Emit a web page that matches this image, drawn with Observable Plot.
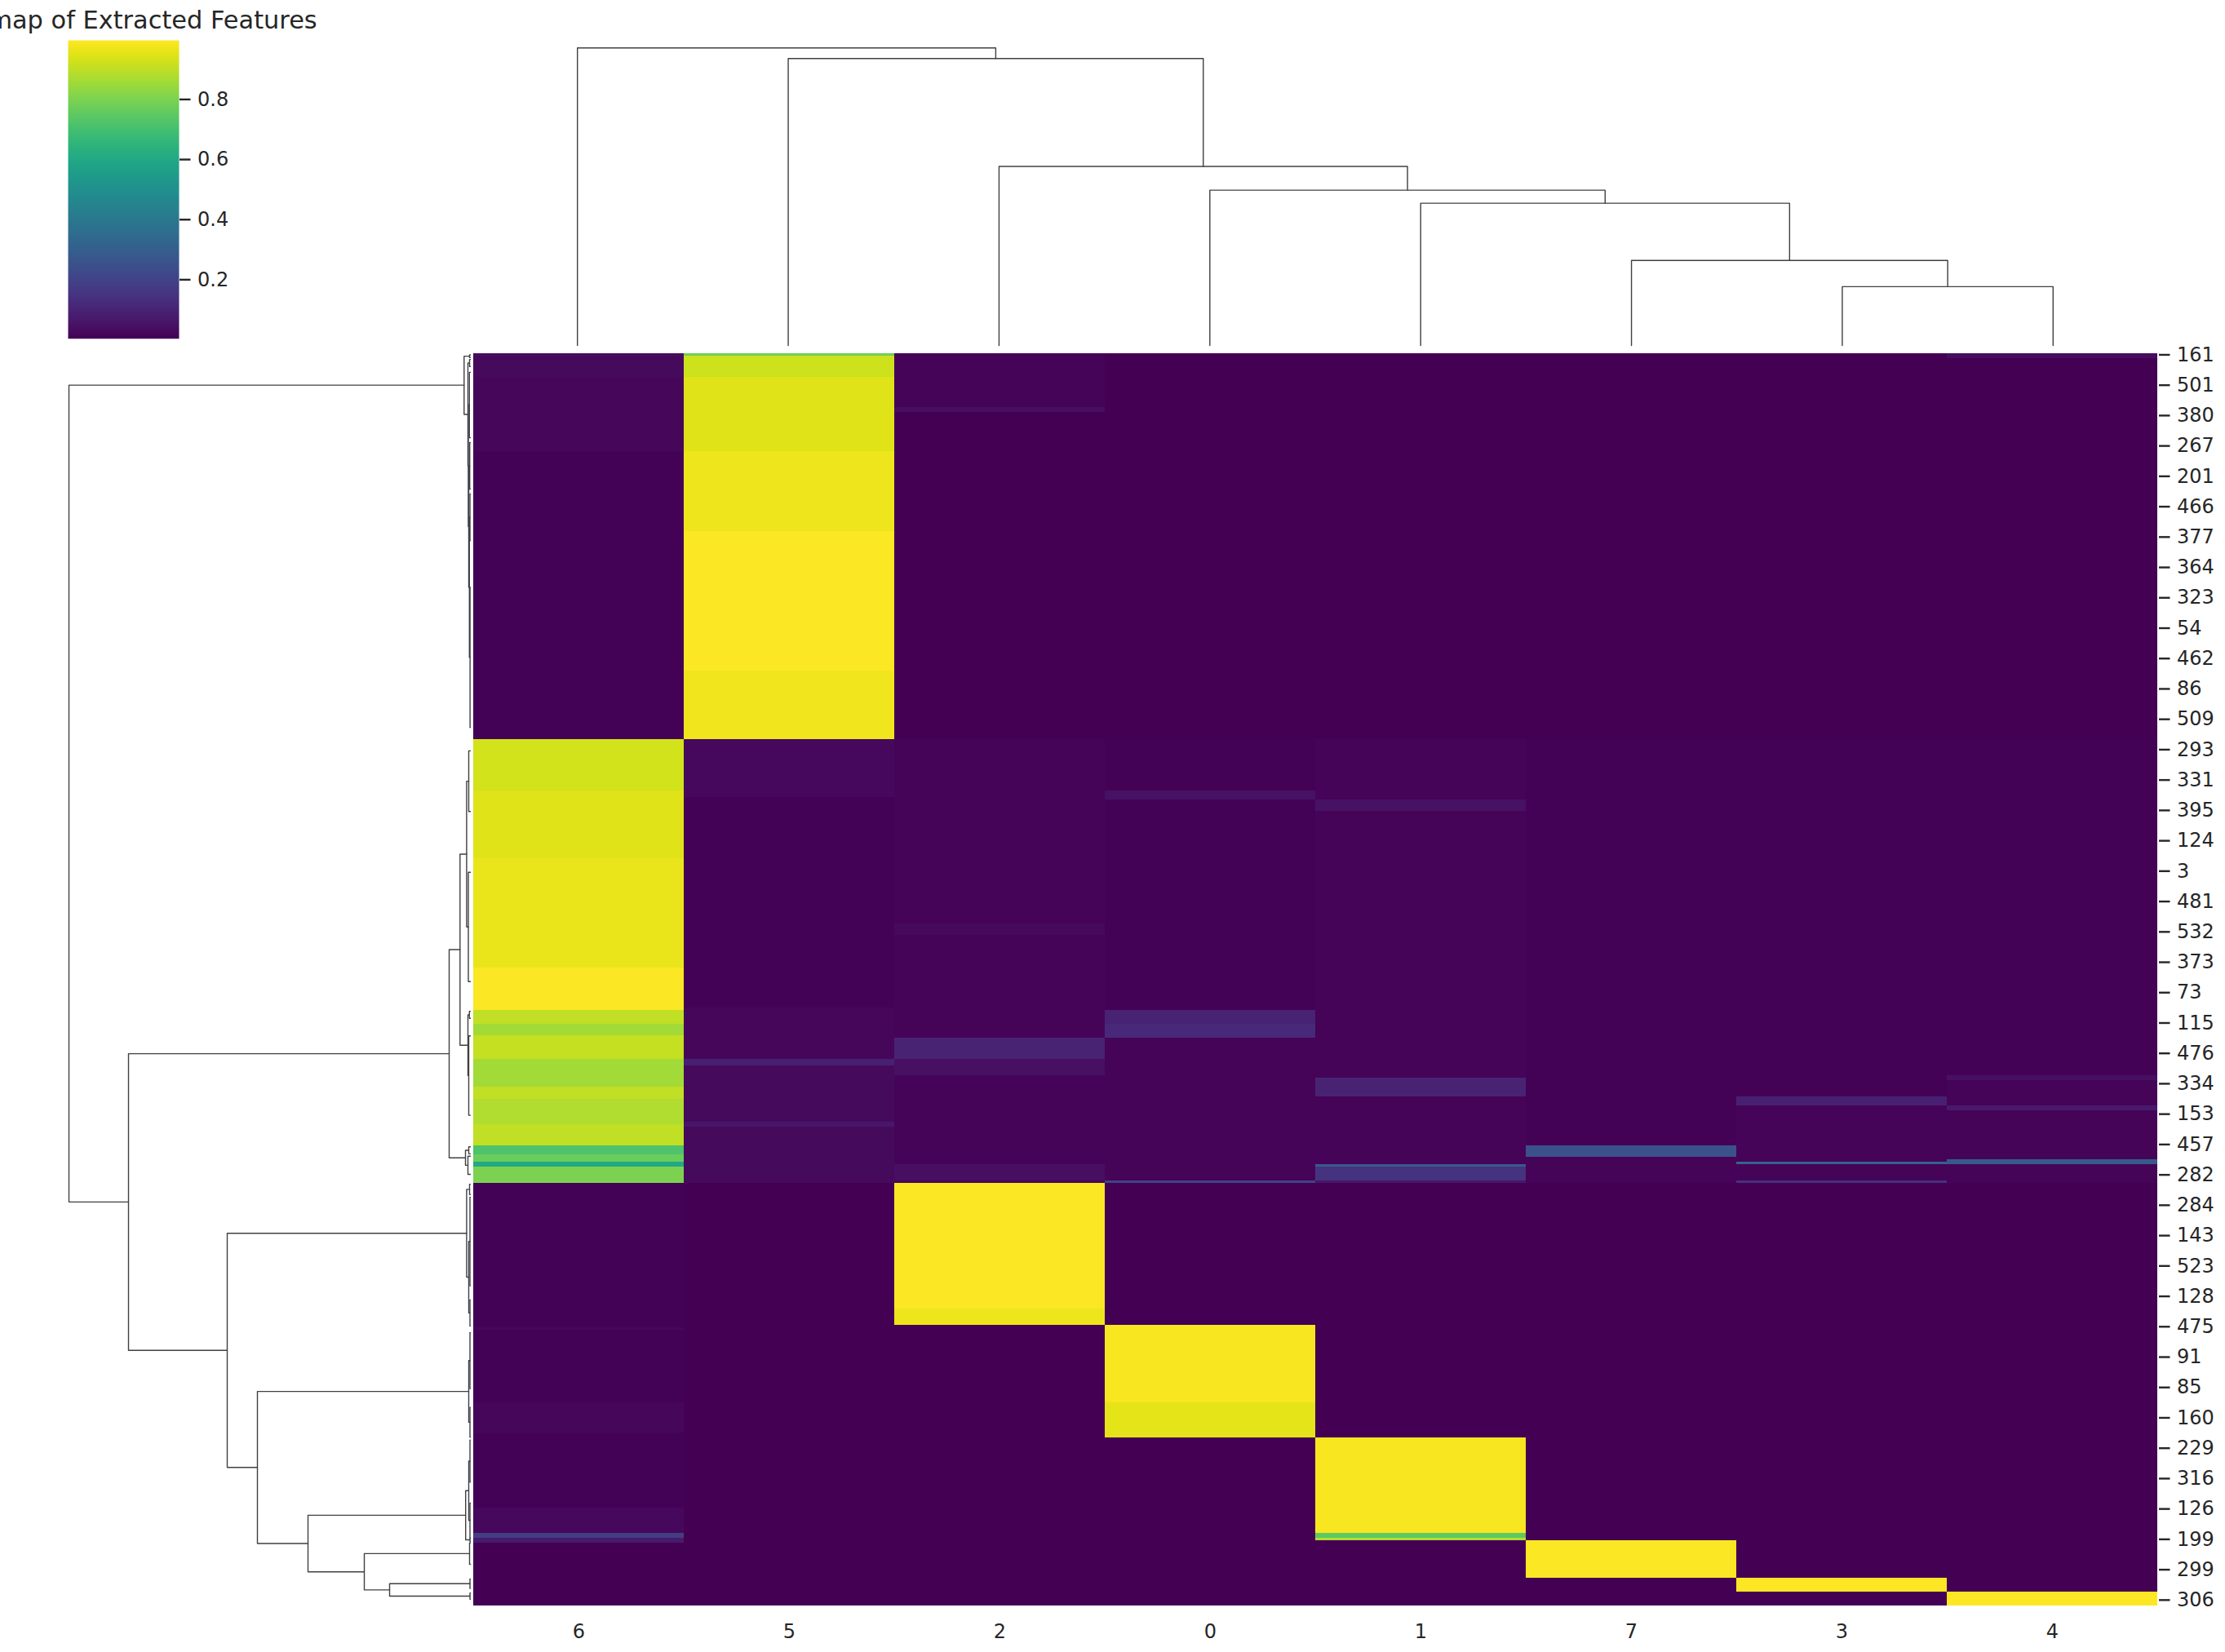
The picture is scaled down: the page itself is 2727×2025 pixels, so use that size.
<!DOCTYPE html>
<html>
<head>
<meta charset="utf-8">
<script src="https://cdn.jsdelivr.net/npm/d3@7"></script>
<script src="https://cdn.jsdelivr.net/npm/@observablehq/plot@0.6"></script>
<style>
  html, body { margin: 0; padding: 0; background: #fff; overflow: hidden; }
  #root { position: relative; width: 2727px; height: 2025px; overflow: hidden; background: #fff;
          font-family: "DejaVu Sans", sans-serif; color: #262626; }
  #root > svg, #root > div { position: absolute; }
  #title { font-size: 30.4px; line-height: 1; text-align: center; white-space: nowrap; color: #262626; }
</style>
</head>
<body>
<div id="root"><div id="title">Heatmap of Extracted Features</div></div>
<script>
// ---------------- DATA ----------------
const titleText = "Heatmap of Extracted Features";
const columns = ["6", "5", "2", "0", "1", "7", "3", "4"];
const nRows = 536;
const rowTickEvery = 13;
const rowTickLabels = ["161","501","380","267","201","466","377","364","323","54",
  "462","86","509","293","331","395","124","3","481","532",
  "373","73","115","476","334","153","457","282","284","143",
  "523","128","475","91","85","160","229","316","126","199","299","306"];
const colorbarTicks = [0.2, 0.4, 0.6, 0.8];
const colorDomain = [0.0037, 0.9966];

// heatmap: per column, row break points and the value in each run of rows
const edges6 = [0,1,10,42,165,187,216,263,281,287,292,302,314,319,330,339,343,346,348,355,417,418,449,462,494,505,507,509,536];
const vals6  = [0.035,0.03,0.02,0.008,0.93,0.95,0.965,0.99,0.9,0.86,0.91,0.86,0.9,0.88,0.9,0.72,0.77,0.6,0.8,0.008,0.025,0.008,0.02,0.01,0.025,0.18,0.07,0.005];
const edges5 = [0,1,10,42,76,136,165,190,280,302,305,329,331,355,536];
const vals5  = [0.78,0.92,0.95,0.97,0.99,0.975,0.025,0.008,0.022,0.09,0.028,0.06,0.028,0.005];
const edges2 = [0,23,25,165,244,249,293,302,309,347,354,355,409,416,536];
const vals2  = [0.015,0.04,0.006,0.012,0.03,0.012,0.1,0.045,0.012,0.04,0.02,0.99,0.97,0.005];
const edges0 = [0,165,187,191,281,287,293,354,355,416,449,464,536];
const vals0  = [0.005,0.008,0.05,0.008,0.1,0.12,0.012,0.2,0.005,0.985,0.955,0.005];
const edges1 = [0,165,191,196,310,318,347,348,354,355,464,505,507,508,536];
const vals1  = [0.005,0.015,0.05,0.012,0.1,0.015,0.28,0.15,0.06,0.005,0.985,0.75,0.88,0.005];
const edges7 = [0,165,339,344,355,508,524,536];
const vals7  = [0.005,0.008,0.25,0.012,0.005,0.99,0.005];
const edges3 = [0,165,318,322,346,347,354,355,524,530,536];
const vals3  = [0.005,0.008,0.09,0.012,0.32,0.012,0.14,0.005,0.995,0.005];
const edges4 = [0,2,165,309,311,322,324,345,347,355,530,536];
const vals4  = [0.035,0.005,0.008,0.045,0.012,0.07,0.015,0.28,0.012,0.005,0.995];

// column dendrogram links (x in column-position units, h = linkage distance)
const colLinkX1  = [6.5, 5.5, 4.5, 3.5, 2.5, 1.5, 0.5];
const colLinkX2  = [7.5, 7.0, 6.25, 5.375, 4.4375, 3.46875, 2.484375];
const colLinkH1  = [0, 0, 0, 0, 0, 0, 0];
const colLinkH2  = [0, 0.72, 1.04, 1.74, 1.90, 2.19, 3.51];
const colLinkTop = [0.72, 1.04, 1.74, 1.90, 2.19, 3.51, 3.64];

// row dendrogram links (y in row-position units, h = linkage distance)
const rowLinkY1  = [13.5,299.65,376.5,444.2,497.2,513.6,526.5, 1.1,0.5,4,2.5,22,8,48,38,70,60,100,
  255.1,214.2,183,170,222,283,281.5,292,341,339.5,343.5, 357.7,355.5,380,361,405, 431,419,451, 486.7,474,465,492,507, 509,524.5,530.5];
const rowLinkH1  = [0.077,0.26,0.046,0.02,0.058,0.01,0.005, 0.01,0,0.01,0,0.012,0,0.008,0,0.005,0,0,
  0.127,0.046,0.02,0,0,0.012,0,0,0.02,0,0, 0.01,0,0.005,0,0, 0.005,0,0, 0.02,0.005,0,0,0, 0,0,0];
const rowLinkY2  = [363.1,426.6,476.75,509.3,521.4,529.15,531.8, 26,1.7,48,5.5,74,36,100,58,130,80,160,
  344.2,296,245.4,196,268.8,309,284.5,326,347.4,342.5,351.3, 395.3,359.9,410.6,399,416.2, 457.4,443,463.8, 507.7,499.4,483,506.8,508.4, 518.2,528.5,533.1];
const rowLinkH2  = [4.19,2.98,2.61,1.99,1.30,0.99,0.005, 0.03,0,0.025,0,0.02,0,0.012,0,0.004,0,0,
  0.06,0.03,0.025,0,0,0.02,0,0,0.03,0,0, 0.02,0,0.005,0,0, 0.005,0,0, 0.005,0.005,0,0,0, 0,0,0];
const rowLinkTop = [4.92,4.19,2.98,2.61,1.99,1.30,0.99, 0.077,0.01,0.03,0.01,0.025,0.012,0.02,0.008,0.012,0.005,0.004,
  0.26,0.127,0.046,0.02,0.025,0.03,0.012,0.02,0.06,0.02,0.03, 0.046,0.01,0.02,0.005,0.005, 0.02,0.005,0.005, 0.058,0.02,0.005,0.005,0.005, 0.01,0.005,0.005];

// ---------------- BUILD ----------------
const root = document.getElementById("root");
const FONT = "DejaVu Sans";
const TXT = "#262626";
const baseStyle = {fontFamily: FONT, fontSize: "24px", color: TXT, background: "transparent", overflow: "visible"};

const colEdges = {"6": edges6, "5": edges5, "2": edges2, "0": edges0, "1": edges1, "7": edges7, "3": edges3, "4": edges4};
const colVals  = {"6": vals6,  "5": vals5,  "2": vals2,  "0": vals0,  "1": vals1,  "7": vals7,  "3": vals3,  "4": vals4};
const cells = [];
for (const c of columns) {
  const e = colEdges[c], v = colVals[c];
  for (let i = 0; i < v.length; i++) cells.push({col: c, r0: e[i], r1: e[i + 1], value: v[i]});
}
const tickRows = rowTickLabels.map((_, i) => i * rowTickEvery + 0.5);

const colorScale = {type: "linear", scheme: "viridis", domain: colorDomain, clamp: true};

// geometry of the heatmap frame (pixels in page)
const HX = 578, HY = 432.6, HW = 2067, HH = 1535;

const heat = Plot.plot({
  width: HW + 120, height: HH + 80,
  marginLeft: 0, marginTop: 0, marginRight: 120, marginBottom: 80,
  x: {type: "band", domain: columns, padding: 0, label: null},
  y: {domain: [0, nRows], reverse: true, label: null},
  color: colorScale,
  style: baseStyle,
  marks: [
    Plot.barY(cells, {x: "col", y1: "r0", y2: "r1", fill: "value", shapeRendering: "crispEdges"}),
    Plot.axisY({anchor: "right", ticks: tickRows, tickFormat: (d) => rowTickLabels[Math.round((d - 0.5) / rowTickEvery)],
                tickSize: 13.5, tickPadding: 9, strokeWidth: 2.4, label: null}),
    Plot.axisX({anchor: "bottom", tickSize: 0, tickPadding: 22, label: null})
  ]
});
heat.style.left = HX + "px"; heat.style.top = HY + "px";
root.appendChild(heat);

// column dendrogram
function linkPaths(a1, h1, a2, h2, top) {
  const pts = [];
  for (let i = 0; i < a1.length; i++) {
    pts.push({id: i, p: a1[i], h: h1[i]}, {id: i, p: a1[i], h: top[i]},
             {id: i, p: a2[i], h: top[i]}, {id: i, p: a2[i], h: h2[i]});
  }
  return pts;
}
const colMax = d3.max(colLinkTop) * 1.05;
const colDendroH = 383;
const colDendro = Plot.plot({
  width: HW, height: colDendroH,
  margin: 0,
  x: {domain: [0, columns.length], axis: null},
  y: {domain: [0, colMax], axis: null},
  style: baseStyle,
  marks: [
    Plot.line(linkPaths(colLinkX1, colLinkH1, colLinkX2, colLinkH2, colLinkTop),
              {x: "p", y: "h", z: "id", stroke: "#404040", strokeWidth: 1.4, curve: "linear"})
  ]
});
colDendro.style.left = HX + "px"; colDendro.style.top = (422.7 - colDendroH) + "px";
root.appendChild(colDendro);

// row dendrogram
const rowMax = d3.max(rowLinkTop) * 1.05;
const rowDendro = Plot.plot({
  width: HX, height: HH,
  marginTop: 0, marginBottom: 0, marginRight: 2, marginLeft: HX - 2 - 516.6,
  x: {domain: [0, rowMax], reverse: true, axis: null},
  y: {domain: [0, nRows], reverse: true, axis: null},
  style: baseStyle,
  marks: [
    Plot.line(linkPaths(rowLinkY1, rowLinkH1, rowLinkY2, rowLinkH2, rowLinkTop),
              {x: "h", y: "p", z: "id", stroke: "#404040", strokeWidth: 1.4, curve: "linear"})
  ]
});
rowDendro.style.left = "0px"; rowDendro.style.top = HY + "px";
root.appendChild(rowDendro);

// colour bar
const CBX = 83, CBY = 49.3, CBW = 136, CBH = 365.7;
const cbar = Plot.plot({
  width: CBW + 100, height: CBH,
  marginLeft: 0, marginTop: 0, marginBottom: 0, marginRight: 100,
  x: {domain: [0, 1], axis: null},
  y: {domain: colorDomain, label: null},
  color: colorScale,
  style: baseStyle,
  marks: [
    Plot.raster({x1: 0, x2: 1, y1: colorDomain[0], y2: colorDomain[1], fill: (x, y) => y, pixelSize: 1}),
    Plot.axisY({anchor: "right", ticks: colorbarTicks, tickFormat: d3.format(".1f"),
                tickSize: 13.5, tickPadding: 9, strokeWidth: 2.4, label: null})
  ]
});
cbar.style.left = CBX + "px"; cbar.style.top = CBY + "px";
root.appendChild(cbar);

// title centred over the colour bar (clipped by the page edge, as in the reference)
const title = document.getElementById("title");
title.textContent = titleText;
title.style.width = "800px";
title.style.left = (CBX + CBW / 2 - 400) + "px";
title.style.top = "10px";
</script>
</body>
</html>
